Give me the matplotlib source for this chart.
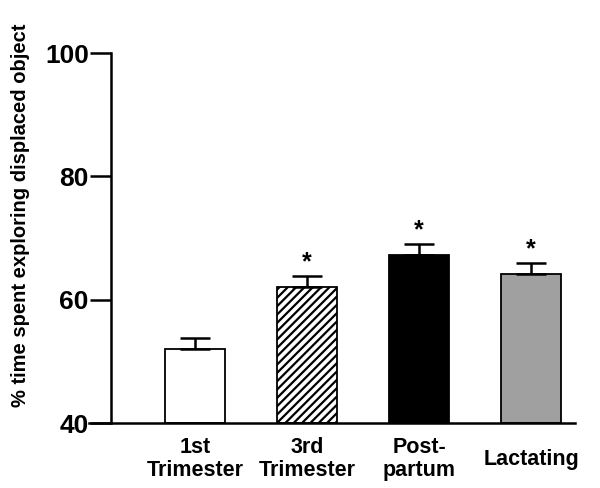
import matplotlib
matplotlib.use("Agg")
import matplotlib.pyplot as plt

plt.rcParams['font.family'] = ['Liberation Sans', 'DejaVu Sans']
plt.rcParams['hatch.linewidth'] = 1.6

categories = ["1st\nTrimester", "3rd\nTrimester", "Post-\npartum", "Lactating"]
means = [52.0, 62.0, 67.2, 64.2]
sem = [1.8, 1.8, 1.8, 1.8]
significant = [False, True, True, True]
colors = ["white", "white", "black", "#a0a0a0"]
hatches = ["", "////", "", ""]

fig = plt.figure(figsize=(6.0, 4.88), dpi=100)
ax = fig.add_axes([0.185, 0.133, 0.773, 0.758])

x = list(range(1, len(categories) + 1))
for xi, m, e, c, h in zip(x, means, sem, colors, hatches):
    ax.bar(xi, m - 40, bottom=40, width=0.53, color=c, edgecolor="black",
           linewidth=1.3, hatch=h, zorder=2)
    ax.errorbar(xi, m, yerr=[[0], [e]], fmt="none", ecolor="black",
                elinewidth=1.8, capsize=11, capthick=1.8, zorder=3)

for xi, m, e, s in zip(x, means, sem, significant):
    if s:
        ax.text(xi, m + e + 0.3, "*", ha="center", va="bottom",
                fontsize=18, fontweight="bold")

ax.set_xlim(0.25, 4.39)
ax.set_ylim(40, 100)
ax.set_yticks([40, 60, 80, 100])
ax.tick_params(axis="y", length=15, width=1.8, direction="out",
               labelsize=19, pad=1)
for lbl in ax.get_yticklabels():
    lbl.set_fontweight("bold")

ax.set_xticks(x)
ax.set_xticklabels(categories, fontsize=15.5, fontweight="bold")
ax.tick_params(axis="x", length=0, pad=26)
for lbl in ax.get_xticklabels():
    lbl.set_va("center")
    lbl.set_linespacing(1.15)

for side in ("top", "right"):
    ax.spines[side].set_visible(False)
ax.spines["left"].set_linewidth(1.8)
ax.spines["bottom"].set_linewidth(1.8)
ax.spines["bottom"].set_bounds(0.05, 4.39)
ax.spines["bottom"].set_zorder(4)

ax.set_ylabel("% time spent exploring displaced object", fontsize=14.5,
              fontweight="bold")
ax.yaxis.set_label_coords(-0.175, 0.562)

fig.savefig("out.png", dpi=100)
